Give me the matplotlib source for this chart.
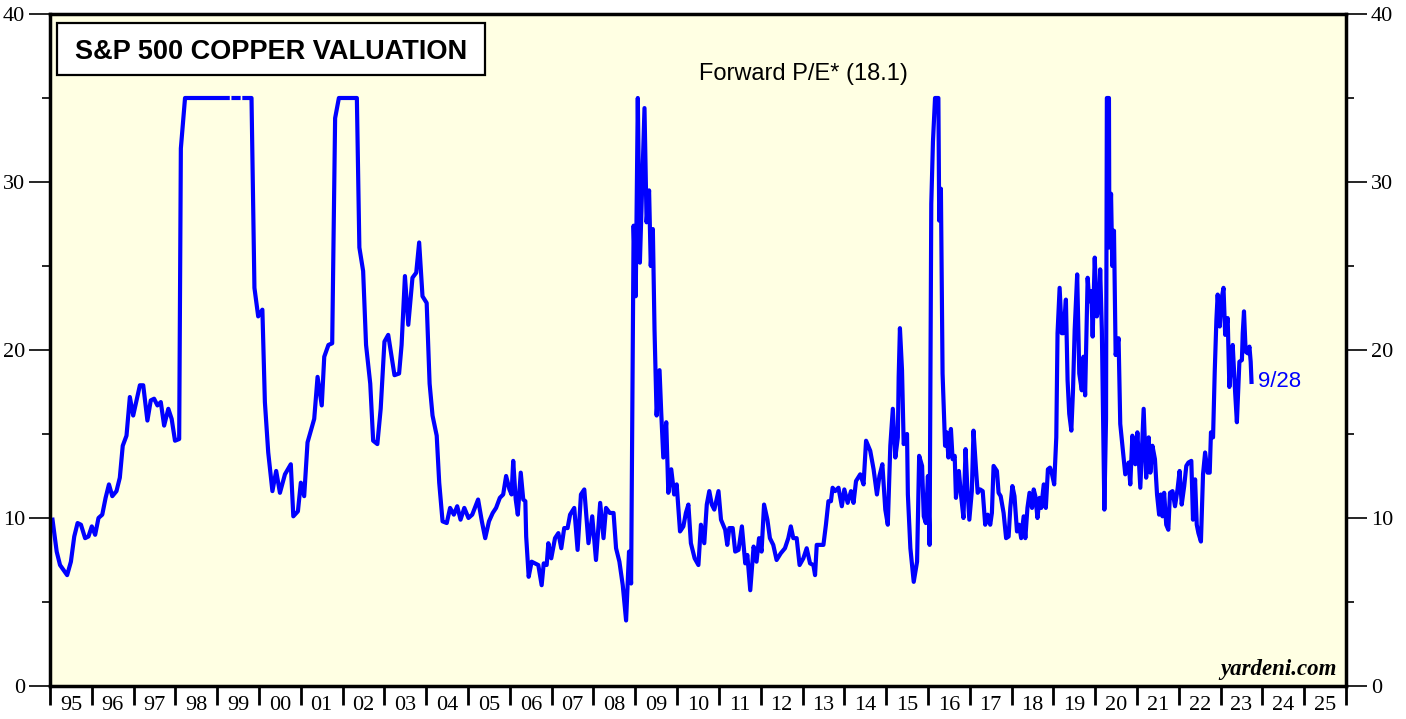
import numpy as np
import matplotlib
matplotlib.use("Agg")
import matplotlib.pyplot as plt
from matplotlib.patches import Rectangle

# S&P 500 forward P/E divided by copper price (capped at 35)
years = [
    1995.06, 1995.16, 1995.24, 1995.41, 1995.50, 1995.58, 1995.66, 1995.74, 1995.84, 1995.92,
    1996.00, 1996.08, 1996.16, 1996.25, 1996.33, 1996.41, 1996.49, 1996.59, 1996.67, 1996.74,
    1996.83, 1996.91, 1996.99, 1997.07, 1997.15, 1997.23, 1997.33, 1997.41, 1997.49, 1997.57,
    1997.65, 1997.73, 1997.83, 1997.91, 1997.99, 1998.09, 1998.13, 1998.23, 1999.25, 1999.32,
    1999.39, 1999.51, 1999.58, 1999.65, 1999.82, 1999.89, 1999.98, 2000.08, 2000.14, 2000.22,
    2000.32, 2000.41, 2000.50, 2000.62, 2000.76, 2000.82, 2000.93, 2001.00, 2001.08, 2001.16,
    2001.32, 2001.40, 2001.50, 2001.56, 2001.66, 2001.75, 2001.82, 2001.91, 2002.34, 2002.40,
    2002.49, 2002.56, 2002.66, 2002.73, 2002.83, 2002.91, 2003.00, 2003.09, 2003.24, 2003.35,
    2003.41, 2003.49, 2003.57, 2003.67, 2003.76, 2003.83, 2003.91, 2004.01, 2004.08, 2004.15,
    2004.25, 2004.31, 2004.39, 2004.49, 2004.57, 2004.66, 2004.74, 2004.82, 2004.91, 2005.01,
    2005.10, 2005.24, 2005.33, 2005.41, 2005.50, 2005.59, 2005.67, 2005.76, 2005.84, 2005.91,
    2005.99, 2006.04, 2006.08, 2006.14, 2006.19, 2006.26, 2006.32, 2006.37, 2006.39, 2006.45,
    2006.52, 2006.60, 2006.68, 2006.76, 2006.81, 2006.88, 2006.92, 2006.99, 2007.08, 2007.16,
    2007.23, 2007.30, 2007.38, 2007.44, 2007.54, 2007.62, 2007.70, 2007.78, 2007.88, 2007.97,
    2008.06, 2008.16, 2008.24, 2008.30, 2008.39, 2008.48, 2008.54, 2008.62, 2008.70, 2008.78,
    2008.85, 2008.90, 2008.96, 2009.01, 2009.06, 2009.11, 2009.22, 2009.27, 2009.33, 2009.37,
    2009.42, 2009.46, 2009.51, 2009.58, 2009.62, 2009.67, 2009.74, 2009.79, 2009.86, 2009.93,
    2009.99, 2010.07, 2010.15, 2010.21, 2010.27, 2010.33, 2010.42, 2010.51, 2010.57, 2010.65,
    2010.71, 2010.77, 2010.83, 2010.89, 2010.99, 2011.05, 2011.15, 2011.20, 2011.25, 2011.33,
    2011.39, 2011.47, 2011.55, 2011.63, 2011.68, 2011.75, 2011.83, 2011.90, 2011.96, 2012.02,
    2012.08, 2012.16, 2012.22, 2012.30, 2012.38, 2012.48, 2012.58, 2012.66, 2012.72, 2012.78,
    2012.86, 2012.93, 2013.02, 2013.10, 2013.18, 2013.26, 2013.30, 2013.34, 2013.42, 2013.50,
    2013.56, 2013.62, 2013.68, 2013.72, 2013.78, 2013.86, 2013.94, 2014.00, 2014.08, 2014.16,
    2014.22, 2014.28, 2014.38, 2014.46, 2014.52, 2014.62, 2014.70, 2014.78, 2014.84, 2014.91,
    2014.98, 2015.04, 2015.10, 2015.16, 2015.22, 2015.28, 2015.30, 2015.33, 2015.38, 2015.42,
    2015.50, 2015.52, 2015.58, 2015.66, 2015.74, 2015.79, 2015.86, 2015.90, 2015.95, 2016.00,
    2016.04, 2016.08, 2016.12, 2016.17, 2016.25, 2016.27, 2016.31, 2016.35, 2016.41, 2016.45,
    2016.49, 2016.55, 2016.59, 2016.64, 2016.67, 2016.74, 2016.79, 2016.85, 2016.90, 2016.94,
    2016.99, 2017.05, 2017.09, 2017.15, 2017.19, 2017.25, 2017.31, 2017.37, 2017.43, 2017.49,
    2017.53, 2017.57, 2017.65, 2017.69, 2017.74, 2017.81, 2017.87, 2017.93, 2017.97, 2018.02,
    2018.07, 2018.13, 2018.18, 2018.23, 2018.29, 2018.33, 2018.38, 2018.43, 2018.49, 2018.53,
    2018.57, 2018.62, 2018.67, 2018.71, 2018.77, 2018.82, 2018.87, 2018.92, 2018.96, 2019.02,
    2019.07, 2019.10, 2019.15, 2019.20, 2019.24, 2019.30, 2019.34, 2019.38, 2019.43, 2019.47,
    2019.51, 2019.57, 2019.62, 2019.68, 2019.72, 2019.76, 2019.82, 2019.86, 2019.91, 2019.94,
    2019.99, 2020.04, 2020.10, 2020.12, 2020.16, 2020.22, 2020.26, 2020.28, 2020.33, 2020.34,
    2020.38, 2020.41, 2020.45, 2020.49, 2020.56, 2020.60, 2020.72, 2020.80, 2020.84, 2020.89,
    2020.96, 2021.01, 2021.08, 2021.16, 2021.22, 2021.28, 2021.32, 2021.37, 2021.43, 2021.48,
    2021.53, 2021.57, 2021.61, 2021.65, 2021.70, 2021.75, 2021.79, 2021.85, 2021.91, 2021.97,
    2022.02, 2022.07, 2022.13, 2022.18, 2022.23, 2022.30, 2022.34, 2022.39, 2022.43, 2022.47,
    2022.53, 2022.58, 2022.63, 2022.69, 2022.74, 2022.77, 2022.82, 2022.86, 2022.90, 2022.93,
    2022.98, 2023.02, 2023.07, 2023.11, 2023.17, 2023.21, 2023.25, 2023.29, 2023.35, 2023.39,
    2023.45, 2023.51, 2023.53, 2023.56, 2023.60, 2023.65, 2023.69, 2023.72, 2023.74,
]
pe_copper = [
    9.9, 8.0, 7.2, 6.6, 7.4, 8.9, 9.7, 9.6, 8.8, 8.9,
    9.5, 9.0, 10.0, 10.2, 11.2, 12.0, 11.3, 11.6, 12.4, 14.3,
    14.9, 17.2, 16.1, 17.0, 17.9, 17.9, 15.8, 17.0, 17.1, 16.7,
    16.9, 15.5, 16.5, 15.9, 14.6, 14.7, 32.0, 35.0, 35.0, np.nan,
    35.0, 35.0, np.nan, 35.0, 35.0, 23.7, 22.0, 22.4, 16.9, 13.9,
    11.6, 12.8, 11.5, 12.6, 13.2, 10.1, 10.4, 12.1, 11.3, 14.5,
    15.9, 18.4, 16.7, 19.6, 20.3, 20.4, 33.8, 35.0, 35.0, 26.1,
    24.7, 20.3, 18.0, 14.6, 14.4, 16.5, 20.5, 20.9, 18.5, 18.6,
    20.3, 24.4, 21.5, 24.3, 24.6, 26.4, 23.2, 22.8, 18.0, 16.1,
    14.9, 12.1, 9.8, 9.7, 10.6, 10.2, 10.7, 9.9, 10.6, 10.0,
    10.2, 11.1, 9.8, 8.8, 9.8, 10.3, 10.6, 11.2, 11.4, 12.5,
    11.7, 11.4, 13.4, 11.1, 10.2, 12.7, 11.1, 11.0, 8.9, 6.5,
    7.4, 7.3, 7.2, 6.0, 7.3, 7.2, 8.5, 7.6, 8.8, 9.1,
    8.2, 9.4, 9.4, 10.2, 10.6, 8.1, 11.4, 11.7, 8.5, 10.1,
    7.5, 10.9, 8.8, 10.6, 10.3, 10.3, 8.2, 7.4, 6.0, 3.9,
    8.0, 6.1, 27.4, 23.2, 35.0, 25.2, 34.4, 27.6, 29.5, 25.0,
    27.2, 21.2, 16.1, 18.8, 16.3, 13.6, 15.7, 11.5, 12.9, 11.4,
    12.0, 9.2, 9.5, 10.3, 10.8, 8.5, 7.6, 7.2, 9.6, 8.5,
    10.8, 11.6, 10.8, 10.5, 11.6, 9.9, 9.3, 8.4, 9.4, 9.4,
    8.0, 8.1, 9.5, 7.3, 7.8, 5.7, 8.3, 7.4, 8.8, 8.0,
    10.8, 9.9, 8.8, 8.4, 7.5, 7.9, 8.2, 8.8, 9.5, 8.8,
    8.8, 7.2, 7.6, 8.2, 7.3, 7.2, 6.6, 8.4, 8.4, 8.4,
    9.6, 11.0, 11.0, 11.8, 11.6, 11.8, 10.7, 11.7, 10.9, 11.6,
    10.9, 12.2, 12.6, 12.0, 14.6, 14.0, 12.9, 11.4, 12.5, 13.2,
    10.5, 9.6, 14.3, 16.5, 13.6, 14.8, 18.4, 21.3, 18.8, 14.4,
    15.0, 11.4, 8.2, 6.2, 7.4, 13.7, 13.1, 10.1, 9.7, 12.5,
    8.4, 28.7, 32.4, 35.0, 35.0, 27.7, 29.6, 18.6, 14.3, 15.1,
    13.6, 15.3, 13.5, 13.7, 11.2, 12.8, 11.4, 10.0, 14.1, 11.9,
    9.9, 11.6, 15.2, 12.9, 11.5, 11.7, 11.6, 9.6, 10.2, 9.6,
    10.3, 13.1, 12.8, 11.5, 11.3, 10.3, 8.8, 8.9, 10.6, 11.9,
    11.3, 9.2, 9.6, 8.8, 10.1, 8.8, 10.6, 11.5, 10.6, 11.7,
    11.3, 10.0, 11.2, 10.6, 12.0, 10.6, 12.9, 13.0, 12.7, 12.0,
    14.8, 21.0, 23.7, 21.0, 21.0, 23.0, 18.2, 16.2, 15.2, 17.6,
    21.2, 24.5, 18.6, 17.6, 19.6, 17.3, 24.3, 22.9, 23.5, 20.8,
    25.5, 22.0, 22.9, 24.8, 21.2, 10.5, 15.9, 35.0, 35.0, 26.1,
    29.3, 25.0, 27.1, 19.7, 20.7, 15.6, 12.6, 13.3, 12.0, 14.9,
    13.2, 15.1, 11.8, 16.5, 12.4, 14.8, 12.7, 14.3, 13.5, 11.4,
    10.2, 11.4, 10.1, 11.5, 9.6, 9.3, 11.5, 11.6, 10.7, 11.7,
    12.8, 10.8, 11.9, 13.1, 13.3, 13.4, 9.9, 12.3, 9.6, 9.1,
    8.6, 12.6, 13.9, 12.7, 12.7, 15.1, 14.8, 18.7, 21.8, 23.3,
    21.4, 23.0, 23.7, 20.9, 21.9, 17.8, 19.1, 20.3, 17.4, 15.7,
    19.3, 19.4, 21.0, 22.3, 19.9, 19.8, 20.2, 19.3, 18.1,
]

year_ticks = list(range(1995, 2027))
year_labels = ["%02d" % (y % 100) for y in range(1995, 2026)]
y_major = [0, 10, 20, 30, 40]
y_minor = [5, 15, 25, 35]

fig = plt.figure(figsize=(14.06, 7.19), dpi=100)
ax = fig.add_axes([50 / 1406, 1 - 686 / 719, 1296 / 1406, 672 / 719])
ax.set_facecolor("#FFFFE3")

ax.plot(years, pe_copper, color="#0000FF", lw=3.0, solid_joinstyle="round")

ax.set_xlim(1995, 2026)
ax.set_ylim(0, 40)

# year boundaries as ticks, labels sit between them
ax.set_xticks(year_ticks)
ax.set_xticklabels([])
ax.set_xticks([y + 0.5 for y in range(1995, 2026)], minor=True)
ax.set_xticklabels(year_labels, minor=True, family="Liberation Serif", fontsize=16)
ax.tick_params(axis="x", which="major", direction="out", length=14, width=2)
ax.tick_params(axis="x", which="minor", length=0, pad=7)

ax.set_yticks(y_major)
ax.set_yticks(y_minor, minor=True)
ax.set_yticklabels([str(v) for v in y_major], family="Liberation Serif", fontsize=16)
ax.tick_params(axis="y", which="major", direction="out", length=15, width=1.2,
               left=True, right=True, labelleft=True, labelright=True, pad=3)
ax.tick_params(axis="y", which="minor", direction="out", length=6, width=1.2,
               left=True, right=True)

for sp in ax.spines.values():
    sp.set_linewidth(2.5)
    sp.set_color("black")

# title box
box_x, box_y, box_w, box_h = 0.0054, 0.909, 0.3303, 0.0775
ax.add_patch(Rectangle((box_x, box_y), box_w, box_h, transform=ax.transAxes,
                       facecolor="white", edgecolor="black", lw=1.6, zorder=5))
ax.text(box_x + box_w / 2, 0.944, "S&P 500 COPPER VALUATION",
        transform=ax.transAxes, ha="center", va="center", fontsize=19.5,
        fontweight="bold", family="Liberation Sans", zorder=6)

ax.text(0.581, 0.911, "Forward P/E* (18.1)", transform=ax.transAxes,
        ha="center", va="center", fontsize=17, family="Liberation Sans")

ax.text(years[-1] + 0.15, 18.1, "9/28", color="#0000FF", ha="left", va="center",
        fontsize=16, family="Liberation Sans")

ax.text(0.993, 0.024, "yardeni.com", transform=ax.transAxes, ha="right", va="center",
        fontsize=16.5, fontweight="bold", fontstyle="italic", family="Liberation Serif")

fig.savefig("out.png", dpi=100)
